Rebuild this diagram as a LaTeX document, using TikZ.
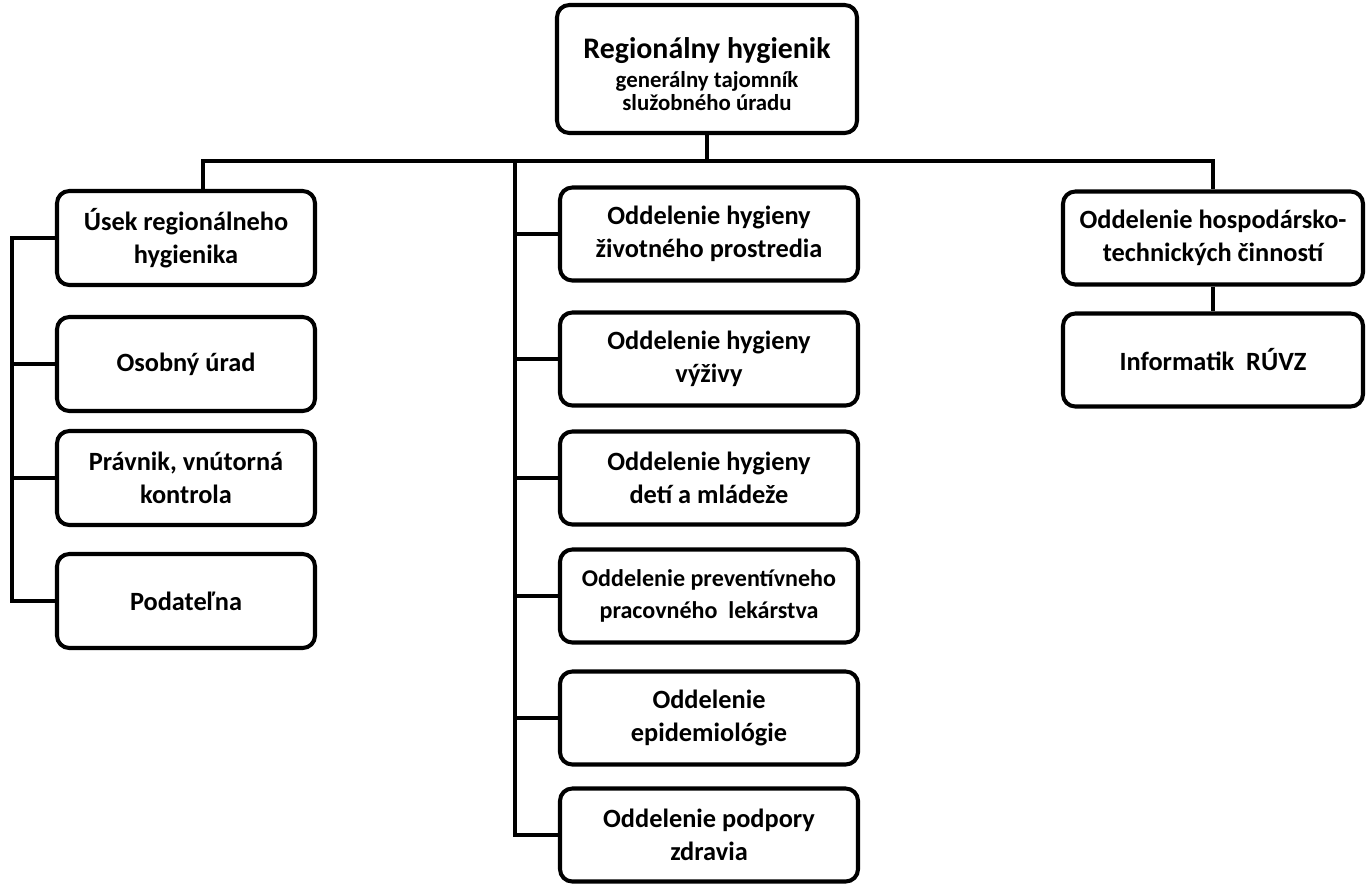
\documentclass[tikz,border=0pt]{standalone}
\usepackage{fontspec}
\setmainfont{Carlito}
\usetikzlibrary{positioning}

\tikzset{
  unit/.style={draw, line width=2.3pt, rounded corners=7pt, align=center,
    font=\bfseries\fontsize{15}{18.5}\selectfont, inner sep=2pt},
  leftunit/.style={unit, minimum width=258*0.02cm, minimum height=94*0.02cm},
  midunit/.style={unit, minimum width=298*0.02cm, minimum height=93*0.02cm},
  rightunit/.style={unit, minimum width=300*0.02cm, minimum height=93*0.02cm},
  link/.style={line width=2.3pt}
}

\begin{document}
\begin{tikzpicture}[x=0.02cm, y=-0.02cm]

        \useasboundingbox (0,0) rectangle (1370,883);

        % Head of the office
        \node[unit, minimum width=300*0.02cm, minimum height=128*0.02cm] (head) at (707,69) {};
        \node[align=center, font=\bfseries\fontsize{13}{13}\selectfont] (headtext) at (707,74)
          {{\fontsize{17}{20}\selectfont Regionálny hygienik}\\[4pt]
           generálny tajomník\\
           služobného úradu};

        % Left column
        \node[leftunit] (usek) at (186,238) {Úsek regionálneho\\hygienika};
        \node[leftunit] (osobny) at (186,364) {Osobný úrad};
        \node[leftunit] (pravnik) at (186,478) {Právnik, vnútorná\\kontrola};
        \node[leftunit] (podatelna) at (186,601) {Podateľna};

        % Middle column
        \node[midunit] (zivotne) at (709,234) {Oddelenie hygieny\\životného prostredia};
        \node[midunit] (vyziva) at (709,359) {Oddelenie hygieny\\výživy};
        \node[midunit] (deti) at (709,478) {Oddelenie hygieny\\detí a mládeže};
        \node[midunit, font=\bfseries\fontsize{13.7}{18}\selectfont] (prevent) at (709,596)
          {Oddelenie preventívneho\\pracovného\ \ lekárstva};
        \node[midunit] (epid) at (709,718) {Oddelenie\\epidemiológie};
        \node[midunit] (podpora) at (709,835) {Oddelenie podpory\\zdravia};

        % Right column
        \node[rightunit] (hosp) at (1213,238) {Oddelenie hospodársko-\\technických činností};
        \node[rightunit] (inform) at (1213,360) {Informatik\ \ RÚVZ};

        % Main bus
        \coordinate (bus) at (707,161);
        \coordinate (busl) at (203,161);
        \draw[link] (head.south) -- (bus);
        \draw[link] (busl |- usek.north) -- (busl) -| (hosp.north);

        % Left bracket
        \coordinate (lb) at (12,0);
        \draw[link] (usek.west) -- (lb |- usek.west) -- (lb |- podatelna.west) -- (podatelna.west);
        \foreach \n in {osobny, pravnik}
          \draw[link] (lb |- \n.west) -- (\n.west);

        % Middle bracket
        \coordinate (mb) at (515,161);
        \draw[link] (mb) |- (podpora.west);
        \foreach \n in {zivotne, vyziva, deti, prevent, epid}
          \draw[link] (mb |- \n.west) -- (\n.west);

        % Right chain
        \draw[link] (hosp) -- (inform);

\end{tikzpicture}
\end{document}
